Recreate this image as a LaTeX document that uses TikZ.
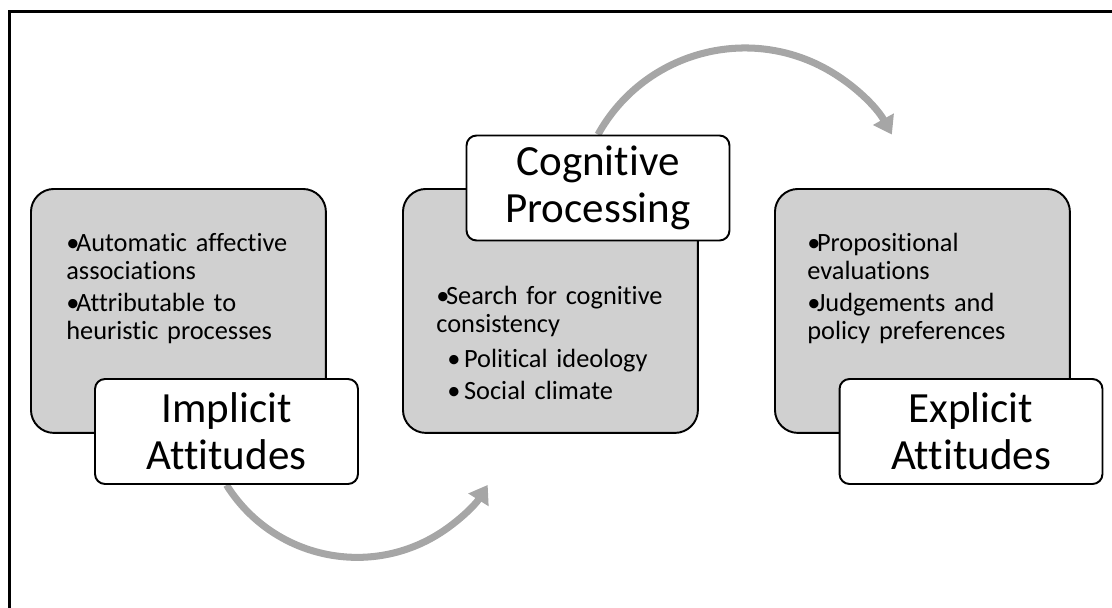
\documentclass[tikz,border=0pt]{standalone}
\usepackage{fontspec}
\setmainfont{Carlito}[Ligatures=NoCommon]
\usetikzlibrary{arrows.meta,backgrounds}
\definecolor{boxgray}{RGB}{208,208,208}
\definecolor{arrowgray}{RGB}{166,166,166}
\newcommand{\bitem}[1]{\par\hangindent=5.5pt\hangafter=1\noindent\makebox[5.5pt][l]{•}#1}
\newcommand{\bsubitem}[1]{\par\noindent\hspace*{6.2pt}\makebox[9.6pt][l]{•}#1}
\begin{document}
\begin{tikzpicture}[
		x=0.02cm, y=-0.02cm,
		infobox/.style={draw, line width=1.1pt, rounded corners=0.46cm, fill=boxgray, minimum width=5.9cm, minimum height=4.88cm, anchor=north west, inner sep=0pt},
		titlebox/.style={draw, line width=1.1pt, rounded corners=0.2cm, fill=white, minimum width=5.26cm, minimum height=2.1cm, align=center, inner sep=0pt, font=\fontsize{24.5}{26.6}\selectfont},
		bullets/.style={anchor=north west, inner sep=0pt, text width=5.2cm, align=left, font=\fontsize{15}{15.9}\selectfont, execute at begin node=\setlength{\parskip}{2.3pt}},
		cyclearrow/.style={draw=arrowgray, line width=4pt, -{Triangle[length=10pt,width=13pt]}}
	]
	\useasboundingbox (0,0) rectangle (1112,608);
	\draw[line width=1.7pt] (9.5,11.5) rectangle (1140,640);
	\node[infobox] (impbox) at (30,188) {};
	\node[infobox] (cogbox) at (402,188) {};
	\node[infobox] (expbox) at (774,188) {};
	\node[bullets] (imptext) at (66,219) {\bitem{Automatic affective\\associations}\bitem{Attributable to\\heuristic processes}};
	\node[bullets] (cogtext) at (436,272) {\bitem{Search for cognitive\\consistency}\vspace{1.7pt}\bsubitem{Political ideology}\bsubitem{Social climate}};
	\node[bullets] (exptext) at (807,219) {\bitem{Propositional\\evaluations}\bitem{Judgements and\\policy preferences}};
	\node[titlebox] (implabel) at (226.5,431.5) {Implicit\\Attitudes};
	\node[titlebox] (coglabel) at (598,188) {Cognitive\\Processing};
	\node[titlebox] (explabel) at (971,431.5) {Explicit\\Attitudes};
	\begin{scope}[on background layer]
		\draw[cyclearrow] (implabel.south) arc[start angle=148, end angle=32, radius=154];
		\draw[cyclearrow] (coglabel.north) arc[start angle=209, end angle=331, radius=168];
	\end{scope}
\end{tikzpicture}
\end{document}
